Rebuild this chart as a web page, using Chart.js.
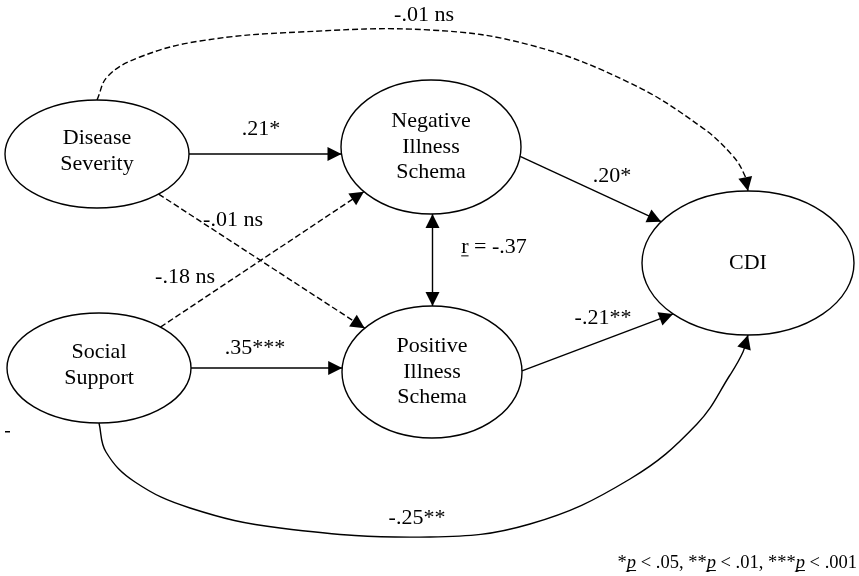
<!DOCTYPE html>
<html><head><meta charset="utf-8">
<script src="https://cdn.jsdelivr.net/npm/chart.js@4.4.1/dist/chart.umd.min.js"></script>
<style>html,body{margin:0;padding:0;background:#fff;}#wrap{width:859px;height:576px;position:relative;}</style>
</head><body><div id="wrap"><canvas id="c"></canvas></div>
<script>
// ---- Variables (nodes) ----
const nodeNames = [["Disease","Severity"],["Negative","Illness","Schema"],["Social","Support"],["Positive","Illness","Schema"],["CDI"]];
const nodeX = [97, 431, 99, 432, 748];
const nodeY = [154, 147, 368, 372, 263];

// ---- Paths (coefficients) ----
const pathFrom   = [0, 0, 2, 2, 1, 1, 3, 0, 2];
const pathTo     = [1, 3, 1, 3, 3, 4, 4, 4, 4];
const pathLabels = [".21*", "-.01 ns", "-.18 ns", ".35***", "r = -.37", ".20*", "-.21**", "-.01 ns", "-.25**"];
const pathDashed = [false, true, true, false, false, false, false, true, false];
const pathBothEnds = [false, false, false, false, true, false, false, false, false];

// ---- Curved paths: intermediate route points ----
const topArcRoute = [[108,76],[140,57],[200,41],[300,32],[430,30],[530,45],[630,83],[700,126],[732,155],[745,176]];
const bottomArcRoute = [[106,452],[135,482],[190,508],[280,528],[430,537],[530,524],[630,479],[697,424],[730,375],[743,352]];

const footnote = [["*",""],["p","iu"],[" < .05, **",""],["p","iu"],[" < .01, ***",""],["p","iu"],[" < .001",""]];

// ---- Styling / geometry settings ----
const nodeRX = [92, 90, 92, 90, 106];
const nodeRY = [54, 67, 55, 66, 72];
const anchorMode = ['h', 'c', 'c', 'h', 'v', 'a', 'a', 'curve', 'curve'];
const anchorAngles = {5: [8, 215], 6: [-1, 135], 7: [-90, -90], 8: [90, 90]};
const curveRoutes = {7: topArcRoute, 8: bottomArcRoute};
const FONT = "'Liberation Serif','Times New Roman',serif";

function onEllipse(i, deg){
  const a = deg*Math.PI/180;
  return [nodeX[i] + nodeRX[i]*Math.cos(a), nodeY[i] + nodeRY[i]*Math.sin(a)];
}
function alongDir(i, dx, dy){
  const t = 1/Math.sqrt((dx/nodeRX[i])**2 + (dy/nodeRY[i])**2);
  return [nodeX[i] + t*dx, nodeY[i] + t*dy];
}
function buildRoute(k){
  const f = pathFrom[k], t = pathTo[k], mode = anchorMode[k];
  if (mode === 'h'){
    const y = nodeY[f];
    const dy = y - nodeY[t];
    const half = nodeRX[t]*Math.sqrt(Math.max(0, 1 - (dy/nodeRY[t])**2));
    return [[nodeX[f] + nodeRX[f], y], [nodeX[t] - half, y]];
  }
  if (mode === 'c'){
    const dx = nodeX[t]-nodeX[f], dy = nodeY[t]-nodeY[f];
    return [alongDir(f, dx, dy), alongDir(t, -dx, -dy)];
  }
  if (mode === 'v'){
    const x = (nodeX[f] + nodeX[t]) / 2 + 1;
    return [[x, nodeY[f] + nodeRY[f]], [x, nodeY[t] - nodeRY[t]]];
  }
  const ang = anchorAngles[k];
  const s = onEllipse(f, ang[0]), e = onEllipse(t, ang[1]);
  if (mode === 'curve') return [s, ...curveRoutes[k], e];
  return [s, e];
}
const routes = pathLabels.map((_, k) => buildRoute(k));

const datasets = [{
  label: 'nodes',
  data: nodeX.map((x,i)=>({x:x, y:nodeY[i]})),
  pointRadius: 0, showLine: false
}];
routes.forEach((r,i)=>{
  datasets.push({
    label: pathLabels[i],
    data: r.map(p=>({x:p[0], y:p[1]})),
    showLine: true, pointRadius: 0,
    borderColor: '#000', borderWidth: 1.4,
    borderDash: pathDashed[i] ? [6,3] : [],
    tension: anchorMode[i] === 'curve' ? 0.4 : 0,
    fill: false
  });
});

function arrowHead(ctx, fx, fy, tx, ty){
  const a = Math.atan2(ty-fy, tx-fx), L = 14, W = 7;
  ctx.beginPath();
  ctx.moveTo(tx, ty);
  ctx.lineTo(tx - L*Math.cos(a) + W*Math.sin(a), ty - L*Math.sin(a) - W*Math.cos(a));
  ctx.lineTo(tx - L*Math.cos(a) - W*Math.sin(a), ty - L*Math.sin(a) + W*Math.cos(a));
  ctx.closePath(); ctx.fill();
}

function richText(ctx, segs, x, y, align, size){
  let total = 0;
  const ws = segs.map(s=>{
    ctx.font = (s[1].includes('i')?'italic ':'') + size + 'px ' + FONT;
    const w = ctx.measureText(s[0]).width; total += w; return w;
  });
  let cx = align==='right' ? x - total : (align==='center' ? x - total/2 : x);
  ctx.textAlign = 'left'; ctx.textBaseline = 'middle';
  segs.forEach((s,i)=>{
    ctx.font = (s[1].includes('i')?'italic ':'') + size + 'px ' + FONT;
    ctx.fillText(s[0], cx, y);
    if (s[1].includes('u')) ctx.fillRect(cx, y + size*0.38, ws[i], 1);
    cx += ws[i];
  });
}

const diagramPlugin = {
  id: 'diagram',
  afterDatasetsDraw(chart, args, opts){
    const ctx = chart.ctx, xs = chart.scales.x, ys = chart.scales.y;
    const px = v=>xs.getPixelForValue(v), py = v=>ys.getPixelForValue(v);
    ctx.save();
    ctx.strokeStyle = '#000'; ctx.fillStyle = '#000';
    chart.getDatasetMeta(0).data.forEach((el,i)=>{
      const rx = Math.abs(px(nodeX[i]+nodeRX[i]) - px(nodeX[i]));
      const ry = Math.abs(py(nodeY[i]+nodeRY[i]) - py(nodeY[i]));
      ctx.beginPath(); ctx.ellipse(el.x, el.y, rx, ry, 0, 0, Math.PI*2);
      ctx.lineWidth = 1.4; ctx.stroke();
      ctx.font = opts.fontSize + 'px ' + FONT;
      ctx.textAlign = 'center'; ctx.textBaseline = 'middle';
      const lines = nodeNames[i], n = lines.length;
      const shift = n===2 ? -3 : 0;
      lines.forEach((t,k)=>{
        ctx.fillText(t, el.x, el.y + (k-(n-1)/2)*opts.lineHeight + shift);
      });
    });
    routes.forEach((r,i)=>{
      const pts = chart.getDatasetMeta(i+1).data;
      const m = pts.length;
      arrowHead(ctx, pts[m-2].x, pts[m-2].y, pts[m-1].x, pts[m-1].y);
      if (pathBothEnds[i]) arrowHead(ctx, pts[1].x, pts[1].y, pts[0].x, pts[0].y);
    });
    pathLabels.forEach((t,i)=>{
      const x = px(opts.labelX[i]), y = py(opts.labelY[i]);
      if (t.startsWith('r ')){
        richText(ctx, [["r","u"],[t.slice(1),""]], x, y, 'center', opts.fontSize);
      } else {
        ctx.font = opts.fontSize + 'px ' + FONT;
        ctx.textAlign = 'center'; ctx.textBaseline = 'middle';
        ctx.fillText(t, x, y);
      }
    });
    richText(ctx, footnote, px(857), py(563), 'right', 18.5);
    ctx.fillRect(px(5), py(431), 5, 1.5);
    ctx.restore();
  }
};

new Chart(document.getElementById('c'), {
  type: 'scatter',
  data: { datasets },
  options: {
    responsive: true, maintainAspectRatio: false, animation: false,
    layout: { padding: 0 },
    plugins: {
      legend: { display: false }, tooltip: { enabled: false },
      diagram: {
        fontSize: 22, lineHeight: 25.5,
        labelX: [261, 233, 185, 255, 494, 612, 603, 424, 417],
        labelY: [129, 220, 277, 348, 247, 176, 318, 15, 518]
      }
    },
    scales: {
      x: { type: 'linear', min: 0, max: 859, display: false },
      y: { type: 'linear', min: 0, max: 576, reverse: true, display: false }
    }
  },
  plugins: [diagramPlugin]
});
</script></body></html>
